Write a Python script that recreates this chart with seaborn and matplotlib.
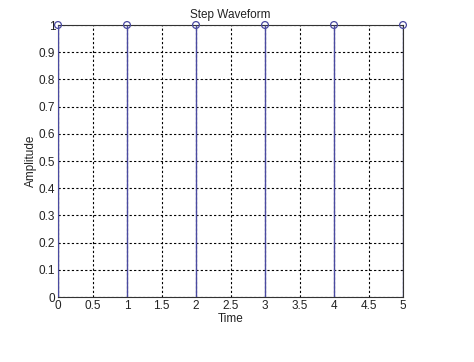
import matplotlib
matplotlib.use("Agg")
import matplotlib.pyplot as plt
import seaborn as sns
import pandas as pd
import numpy as np

time = [0, 1, 2, 3, 4, 5]
amplitude = [1, 1, 1, 1, 1, 1]
xticks = [0, 0.5, 1, 1.5, 2, 2.5, 3, 3.5, 4, 4.5, 5]
xticklabels = ["0", "0.5", "1", "1.5", "2", "2.5", "3", "3.5", "4", "4.5", "5"]
yticks = [0, 0.1, 0.2, 0.3, 0.4, 0.5, 0.6, 0.7, 0.8, 0.9, 1]
yticklabels = ["0", "0.1", "0.2", "0.3", "0.4", "0.5", "0.6", "0.7", "0.8", "0.9", "1"]

sns.set_style("white")
plt.rcParams['font.family'] = ['Liberation Sans', 'DejaVu Sans']

df = pd.DataFrame({"Time": time, "Amplitude": amplitude})

fig = plt.figure(figsize=(4.74, 3.62), dpi=100)
ax = fig.add_axes([58/474, 1-297/362, (403-58)/474, (297-25)/362])

stem_color = "#4a4aa0"
ax.vlines(df["Time"], 0, df["Amplitude"], color=stem_color, linewidth=1.0, zorder=3)
sns.scatterplot(data=df, x="Time", y="Amplitude", ax=ax, marker="o", s=24,
                facecolor="none", edgecolor=stem_color, linewidth=0.9, zorder=4, clip_on=False)

ax.set_xlim(0, 5)
ax.set_ylim(0, 1)
ax.set_xticks(xticks)
ax.set_xticklabels(xticklabels)
ax.set_yticks(yticks)
ax.set_yticklabels(yticklabels)
ax.tick_params(direction="in", length=3, labelsize=8.5, colors="#222222", pad=2, width=0.8)
ax.grid(True, color="black", linestyle=(0, (2.0, 2.0)), linewidth=0.8)
ax.set_axisbelow(True)
for s in ax.spines.values():
    s.set_color("#333333")
    s.set_linewidth(0.8)

ax.set_title("Step Waveform", fontsize=8.5, pad=5, color="#222222")
ax.set_xlabel("Time", fontsize=8.5, labelpad=1, color="#222222")
ax.set_ylabel("Amplitude", fontsize=8.5, labelpad=1, color="#222222")

fig.savefig("out.png", dpi=100)
